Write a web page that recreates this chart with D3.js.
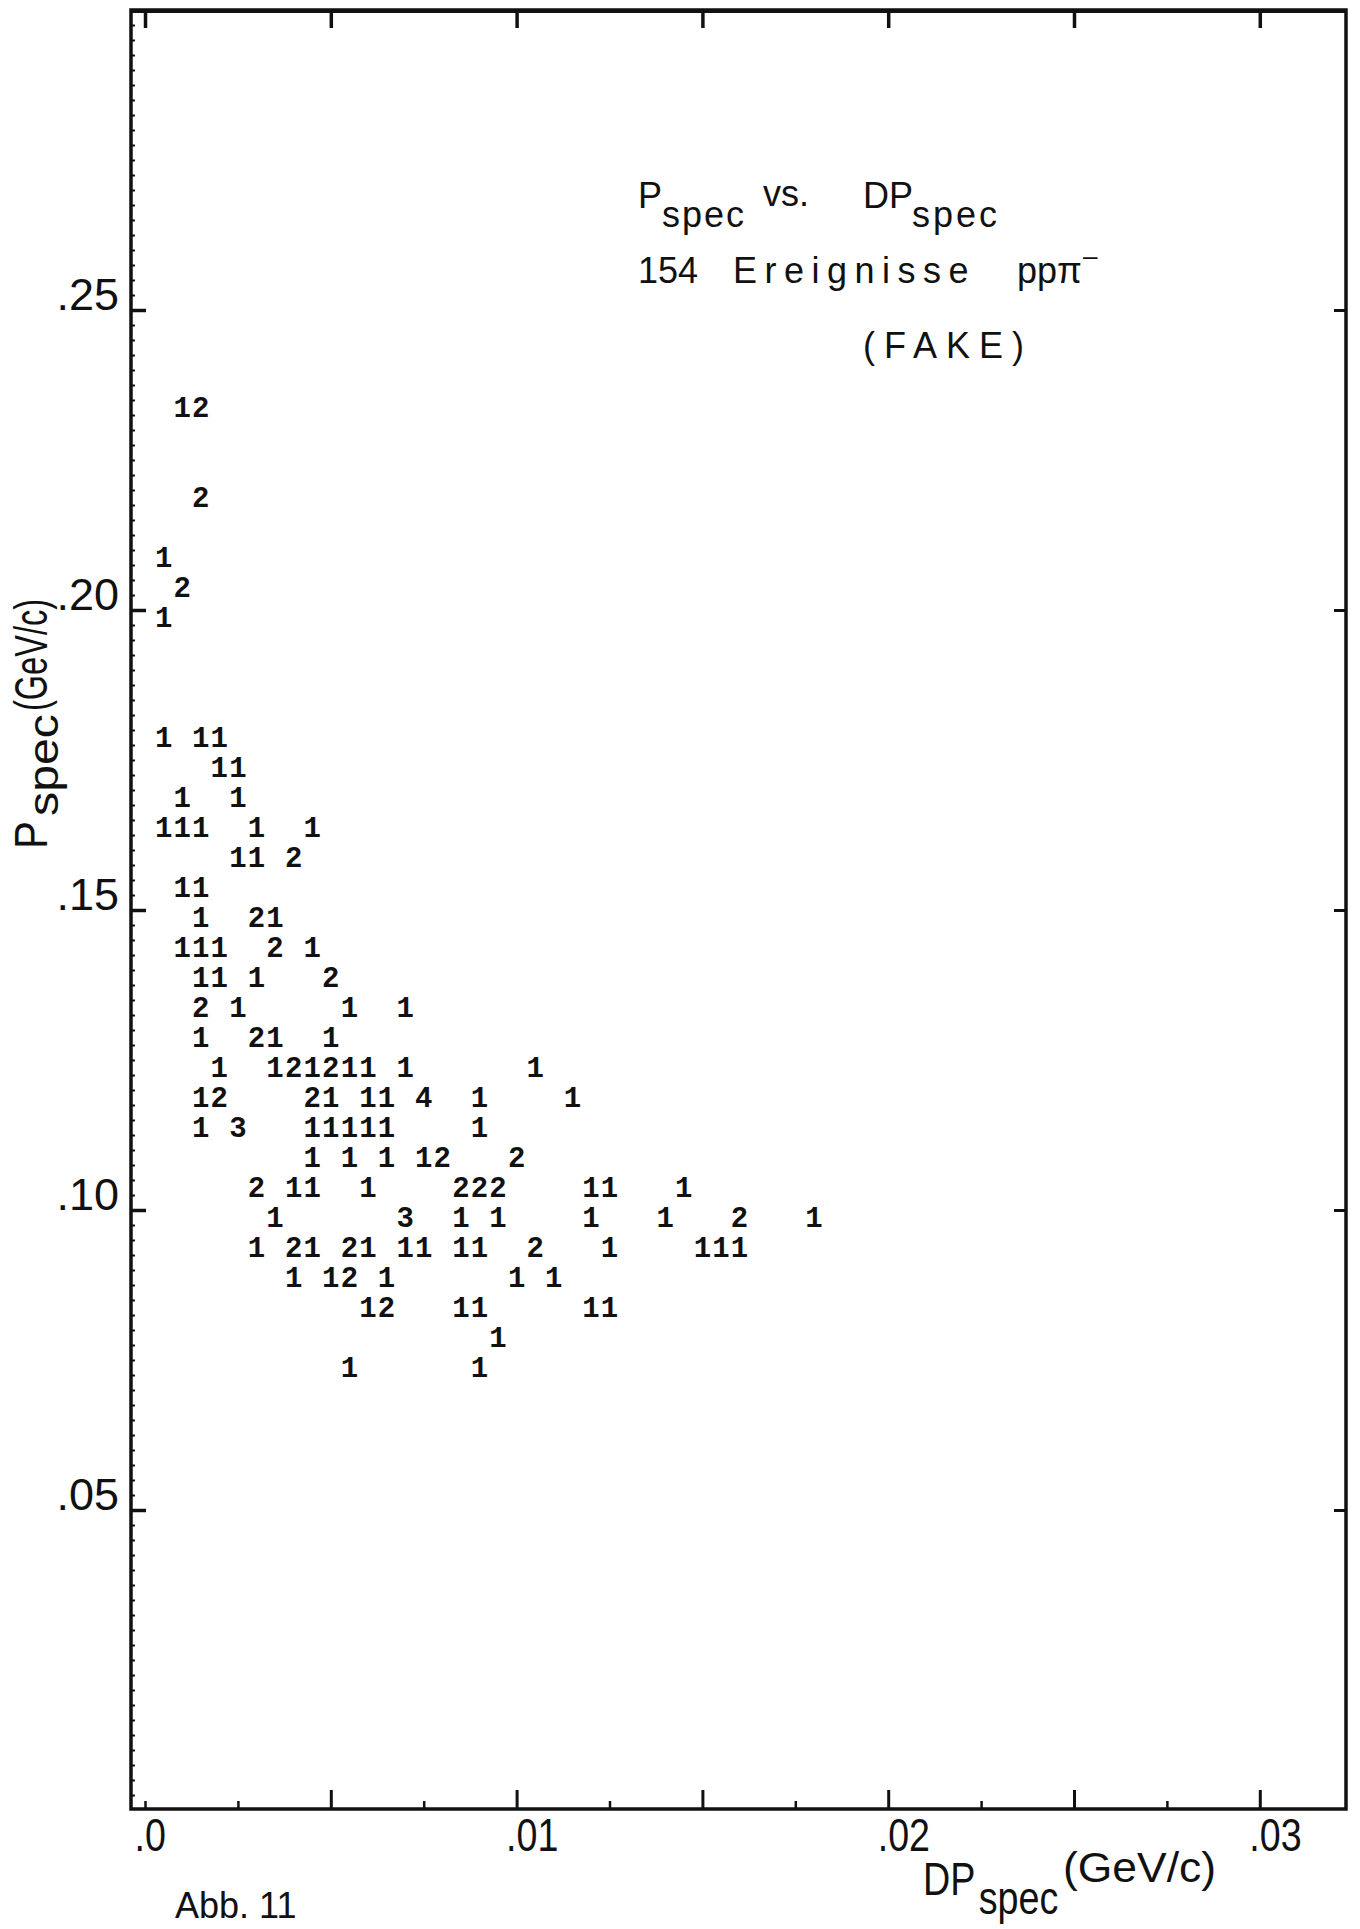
<!DOCTYPE html>
<html>
<head>
<meta charset="utf-8">
<script src="https://cdn.jsdelivr.net/npm/d3@7"></script>
<style>
  body { margin: 0; background: #fff; }
  svg { display: block; }
</style>
</head>
<body>
<div class="chart"></div>
<script>
// P_spec row of each printed line (GeV/c)
const rowP = [0.235, 0.220, 0.210, 0.205, 0.200, 0.180, 0.175, 0.170, 0.165, 0.160,
              0.155, 0.150, 0.145, 0.140, 0.135, 0.130, 0.125, 0.120, 0.115, 0.110,
              0.105, 0.100, 0.095, 0.090, 0.085, 0.080, 0.075];

// DP_spec of the filled cells in each row (GeV/c)
const rowDP = [
  [0.001, 0.0015],
  [0.0015],
  [0.0005],
  [0.001],
  [0.0005],
  [0.0005, 0.0015, 0.002],
  [0.002, 0.0025],
  [0.001, 0.0025],
  [0.0005, 0.001, 0.0015, 0.003, 0.0045],
  [0.0025, 0.003, 0.004],
  [0.001, 0.0015],
  [0.0015, 0.003, 0.0035],
  [0.001, 0.0015, 0.002, 0.0035, 0.0045],
  [0.0015, 0.002, 0.003, 0.005],
  [0.0015, 0.0025, 0.0055, 0.007],
  [0.0015, 0.003, 0.0035, 0.005],
  [0.002, 0.0035, 0.004, 0.0045, 0.005, 0.0055, 0.006, 0.007, 0.0105],
  [0.0015, 0.002, 0.0045, 0.005, 0.006, 0.0065, 0.0075, 0.009, 0.0115],
  [0.0015, 0.0025, 0.0045, 0.005, 0.0055, 0.006, 0.0065, 0.009],
  [0.0045, 0.0055, 0.0065, 0.0075, 0.008, 0.010],
  [0.003, 0.004, 0.0045, 0.006, 0.0085, 0.009, 0.0095, 0.012, 0.0125, 0.0145],
  [0.0035, 0.007, 0.0085, 0.0095, 0.012, 0.014, 0.016, 0.018],
  [0.003, 0.004, 0.0045, 0.0055, 0.006, 0.007, 0.0075, 0.0085, 0.009, 0.0105, 0.0125, 0.015, 0.0155, 0.016],
  [0.004, 0.005, 0.0055, 0.0065, 0.010, 0.011],
  [0.006, 0.0065, 0.0085, 0.009, 0.012, 0.0125],
  [0.0095],
  [0.0055, 0.009]
];

// number of events printed in each cell
const rowN = [
  [1, 2],
  [2],
  [1],
  [2],
  [1],
  [1, 1, 1],
  [1, 1],
  [1, 1],
  [1, 1, 1, 1, 1],
  [1, 1, 2],
  [1, 1],
  [1, 2, 1],
  [1, 1, 1, 2, 1],
  [1, 1, 1, 2],
  [2, 1, 1, 1],
  [1, 2, 1, 1],
  [1, 1, 2, 1, 2, 1, 1, 1, 1],
  [1, 2, 2, 1, 1, 1, 4, 1, 1],
  [1, 3, 1, 1, 1, 1, 1, 1],
  [1, 1, 1, 1, 2, 2],
  [2, 1, 1, 1, 2, 2, 2, 1, 1, 1],
  [1, 3, 1, 1, 1, 1, 2, 1],
  [1, 2, 1, 2, 1, 1, 1, 1, 1, 2, 1, 1, 1, 1],
  [1, 1, 2, 1, 1, 1],
  [1, 2, 1, 1, 1, 1],
  [1],
  [1, 1]
];

// axis ticks
const xLabelTicks = [0, 0.01, 0.02, 0.03];
const xMajorTicks = [0.005, 0.01, 0.015, 0.02, 0.025, 0.03];
const xMinorTicks = [0, 0.0025, 0.0075, 0.0125, 0.0175, 0.0225, 0.0275];
const yLabelTicks = [0.05, 0.10, 0.15, 0.20, 0.25];

const cells = [];
rowP.forEach((p, i) => {
  rowDP[i].forEach((dp, j) => cells.push({p: p, dp: dp, n: rowN[i][j]}));
});

const W = 1360, H = 1929;
const frame = {left: 131, right: 1346, top: 10, bottom: 1809};

const svg = d3.select('.chart').append('svg')
  .attr('width', W)
  .attr('height', H)
  .style('background', '#fff');

const x = d3.scaleLinear()
  .domain([-0.000377, 0.03232])
  .range([frame.left, frame.right]);

const y = d3.scaleLinear()
  .domain([0, 0.30])
  .range([1810, frame.top]);

const ink = '#111';
const sans = '"Liberation Sans", Arial, sans-serif';

// frame
svg.append('rect')
  .attr('x', frame.left).attr('y', frame.top)
  .attr('width', frame.right - frame.left)
  .attr('height', frame.bottom - frame.top)
  .attr('fill', 'none')
  .attr('stroke', ink)
  .attr('stroke-width', 3.5);
svg.append('line')
  .attr('x1', frame.left).attr('x2', frame.right)
  .attr('y1', frame.top + 1).attr('y2', frame.top + 1)
  .attr('stroke', ink).attr('stroke-width', 4);

function styleTicks(g, w) {
  g.select('.domain').remove();
  g.selectAll('.tick line').attr('stroke', ink).attr('stroke-width', w);
}

// squeeze a label to look like the condensed plotter lettering
function squeeze(sel, k) {
  sel.each(function() {
    const len = this.getComputedTextLength();
    d3.select(this).attr('textLength', len * k).attr('lengthAdjust', 'spacingAndGlyphs');
  });
}

const fmt = d => d === 0 ? '.0' : d3.format('.2f')(d).replace(/^0/, '');

// left axis
svg.append('g')
  .attr('transform', `translate(${frame.left},0)`)
  .call(d3.axisLeft(y).tickValues(d3.range(0.0025, 0.3, 0.0025)).tickSize(-4).tickFormat(''))
  .call(g => styleTicks(g, 2));
svg.append('g')
  .attr('transform', `translate(${frame.left},0)`)
  .call(d3.axisLeft(y).tickValues(yLabelTicks).tickSize(-15).tickPadding(12).tickFormat(fmt))
  .call(g => styleTicks(g, 3.5))
  .call(g => g.selectAll('text')
    .attr('dy', '-0.02em')
    .attr('font-family', sans)
    .attr('font-size', 45)
    .attr('fill', ink));

// right axis
svg.append('g')
  .attr('transform', `translate(${frame.right},0)`)
  .call(d3.axisRight(y).tickValues(yLabelTicks).tickSize(-12).tickFormat(''))
  .call(g => styleTicks(g, 3));

// top axis
svg.append('g')
  .attr('transform', `translate(0,${frame.top})`)
  .call(d3.axisTop(x).tickValues([0].concat(xMajorTicks)).tickSize(-18).tickFormat(''))
  .call(g => styleTicks(g, 3.5));

// bottom axis
svg.append('g')
  .attr('transform', `translate(0,${frame.bottom})`)
  .call(d3.axisBottom(x).tickValues(xMajorTicks).tickSize(-19).tickFormat(''))
  .call(g => styleTicks(g, 3));
svg.append('g')
  .attr('transform', `translate(0,${frame.bottom})`)
  .call(d3.axisBottom(x).tickValues(xMinorTicks).tickSize(-8).tickFormat(''))
  .call(g => styleTicks(g, 2.5));
svg.append('g')
  .attr('transform', `translate(0,${frame.bottom})`)
  .call(d3.axisBottom(x).tickValues(xLabelTicks).tickSize(0).tickPadding(9).tickFormat(fmt))
  .call(g => g.select('.domain').remove())
  .call(g => g.selectAll('text')
    .attr('text-anchor', 'start')
    .attr('x', -11)
    .attr('font-family', sans)
    .attr('font-size', 47)
    .attr('fill', ink)
    .call(squeeze, 0.8));

// event counts, printed per cell
svg.append('g')
  .selectAll('text')
  .data(cells)
  .join('text')
  .attr('x', d => x(d.dp))
  .attr('y', d => y(d.p) + 17)
  .attr('text-anchor', 'middle')
  .attr('font-family', '"Liberation Mono", "Courier New", monospace')
  .attr('font-weight', 'bold')
  .attr('font-size', 29)
  .attr('fill', ink)
  .text(d => d.n);

// title block
const title = svg.append('g')
  .attr('font-family', sans)
  .attr('font-size', 36)
  .attr('fill', ink);

const t1 = title.append('text').attr('y', 208);
t1.append('tspan').attr('x', 638).text('P');
t1.append('tspan').attr('x', 662).attr('dy', 19).attr('letter-spacing', 2).text('spec');
t1.append('tspan').attr('x', 763).attr('dy', -21).text('vs.');
t1.append('tspan').attr('x', 863).attr('dy', 2).text('DP');
t1.append('tspan').attr('x', 912).attr('dy', 19).attr('letter-spacing', 3).text('spec');

const t2 = title.append('text').attr('y', 283);
t2.append('tspan').attr('x', 638).text('154');
t2.append('tspan').attr('x', 733).attr('letter-spacing', 7.5).text('Ereignisse');
t2.append('tspan').attr('x', 1017).text('ppπ');
title.append('text')
  .attr('x', 1083).attr('y', 265)
  .attr('font-size', 26)
  .text('–');

title.append('text')
  .attr('x', 863).attr('y', 358)
  .attr('letter-spacing', 9)
  .text('(FAKE)');

// y axis title, reading upwards
const yTitle = svg.append('g')
  .attr('font-family', sans)
  .attr('fill', ink);
yTitle.append('text')
  .attr('transform', 'translate(47,849) rotate(-90)')
  .attr('font-size', 46)
  .attr('textLength', 28).attr('lengthAdjust', 'spacingAndGlyphs')
  .text('P');
yTitle.append('text')
  .attr('transform', 'translate(58,816) rotate(-90)')
  .attr('font-size', 42)
  .attr('textLength', 102).attr('lengthAdjust', 'spacingAndGlyphs')
  .text('spec');
yTitle.append('text')
  .attr('transform', 'translate(47,711) rotate(-90)')
  .attr('font-size', 46)
  .attr('textLength', 112).attr('lengthAdjust', 'spacingAndGlyphs')
  .text('(GeV/c)');

// x axis title, condensed horizontally like the lettering
const xTitle = svg.append('g')
  .attr('font-family', sans)
  .attr('fill', ink);
const xt = xTitle.append('text')
  .attr('transform', 'translate(923,1895) scale(0.82,1)')
  .attr('font-size', 46);
xt.append('tspan').text('DP');
xt.append('tspan').attr('dx', 4).attr('dy', 19).text('spec');
xTitle.append('text')
  .attr('x', 1063).attr('y', 1882)
  .attr('font-size', 43)
  .attr('textLength', 153).attr('lengthAdjust', 'spacingAndGlyphs')
  .text('(GeV/c)');

// figure number at the bottom edge
svg.append('text')
  .attr('x', 175).attr('y', 1918)
  .attr('font-family', sans)
  .attr('font-size', 36)
  .attr('fill', ink)
  .text('Abb. 11');
</script>
</body>
</html>
